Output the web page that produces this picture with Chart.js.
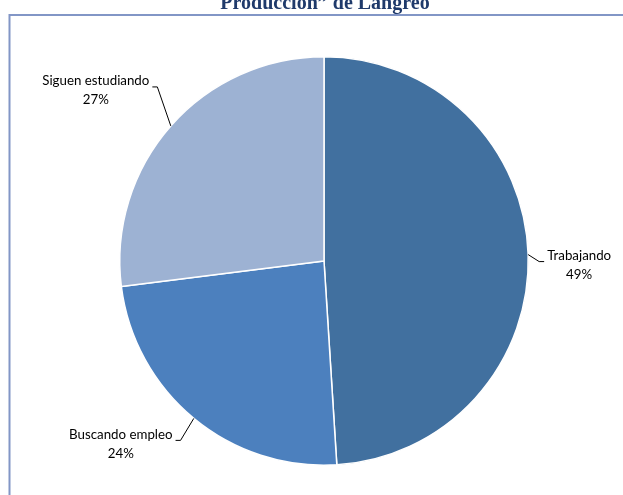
<!DOCTYPE html>
<html>
<head>
<meta charset="utf-8">
<script src="https://cdn.jsdelivr.net/npm/chart.js@4/dist/chart.umd.min.js"></script>
<style>
    html, body { margin: 0; padding: 0; background: #fff; }
    #wrap { position: relative; width: 623px; height: 495px; }
</style>
</head>
<body>
<div id="wrap"><canvas id="myChart" width="623" height="495"></canvas></div>
<script>
const categories = ['Trabajando', 'Buscando empleo', 'Siguen estudiando'];
const values = [49, 24, 27];
const colors = ['#41709F', '#4C80BE', '#9DB2D3'];
const titleText = 'Producción\u201D de Langreo';

// offset of each label (centre of text block) from the slice edge point
const labelOffsets = [[51, 10], [-73, 25], [-75, -36]];

const extras = {
    id: 'extras',
    afterDraw(chart) {
        const ctx = chart.ctx;
        ctx.save();
        // frame
        ctx.strokeStyle = '#8296C6';
        ctx.lineWidth = 2;
        ctx.beginPath();
        ctx.moveTo(623, 15);
        ctx.lineTo(9.5, 15);
        ctx.lineTo(9.5, 495);
        ctx.stroke();

        // title (cut at top)
        ctx.fillStyle = '#1F3A6B';
        ctx.font = 'bold 20px "Liberation Serif"';
        ctx.textAlign = 'center';
        ctx.textBaseline = 'alphabetic';
        ctx.fillText(titleText, 325, 9);

        // data labels with leader lines
        const meta = chart.getDatasetMeta(0);
        const total = values.reduce((a, b) => a + b, 0);
        ctx.font = '13.3px Lato';
        meta.data.forEach((arc, i) => {
            const mid = (arc.startAngle + arc.endAngle) / 2;
            const ex = arc.x + Math.cos(mid) * arc.outerRadius;
            const ey = arc.y + Math.sin(mid) * arc.outerRadius;
            const lx = ex + labelOffsets[i][0];
            const ly = ey + labelOffsets[i][1];
            const line1 = categories[i];
            const line2 = Math.round(values[i] / total * 100) + '%';
            const w = ctx.measureText(line1).width;
            const right = lx > ex;
            const hx = right ? lx - w / 2 - 3 : lx + w / 2 + 3;
            const hy = ly - 3;
            ctx.strokeStyle = '#000';
            ctx.lineWidth = 1;
            ctx.beginPath();
            ctx.moveTo(ex, ey);
            ctx.lineTo(right ? hx - 5 : hx + 5, hy);
            ctx.lineTo(hx, hy);
            ctx.stroke();
            ctx.fillStyle = '#000';
            ctx.textAlign = 'center';
            ctx.textBaseline = 'middle';
            ctx.fillText(line1, lx, ly - 9);
            ctx.fillText(line2, lx, ly + 10);
        });
        ctx.restore();
    }
};

new Chart(document.getElementById('myChart').getContext('2d'), {
    type: 'pie',
    data: {
        labels: categories,
        datasets: [{
            data: values,
            backgroundColor: colors,
            borderColor: '#ffffff',
            borderWidth: 1.5
        }]
    },
    options: {
        responsive: false,
        animation: false,
        layout: { padding: { top: 56, bottom: 29, left: 119, right: 94 } },
        plugins: {
            legend: { display: false },
            tooltip: { enabled: false }
        }
    },
    plugins: [extras]
});
</script>
</body>
</html>
